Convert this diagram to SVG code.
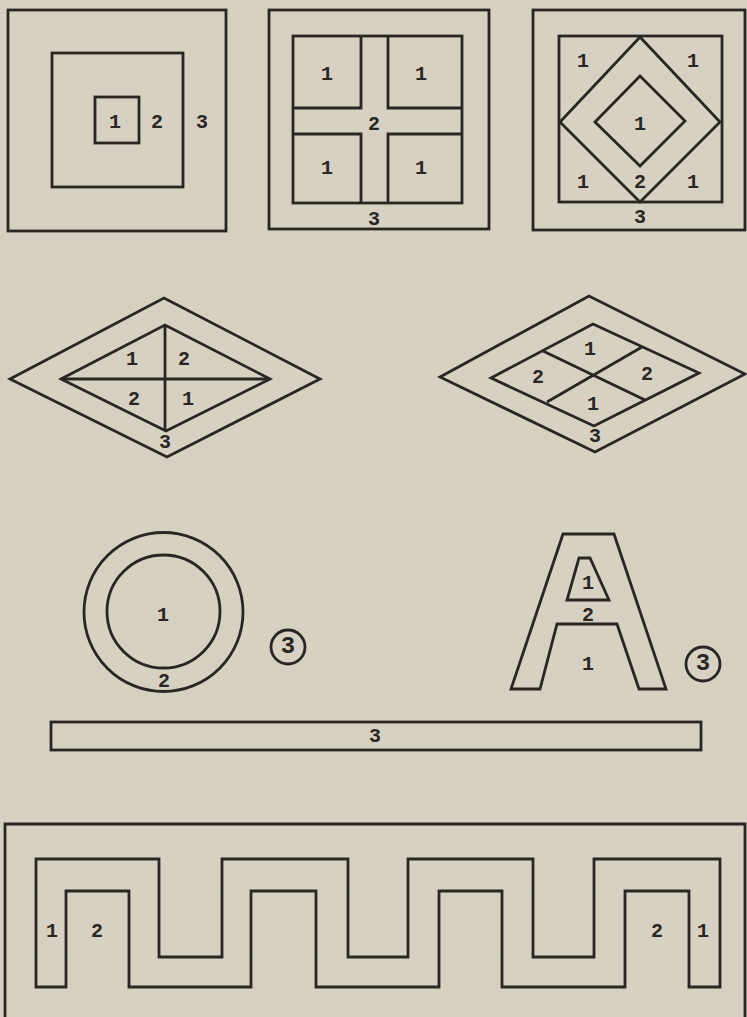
<svg xmlns="http://www.w3.org/2000/svg" width="747" height="1017" viewBox="0 0 747 1017">
<style>
.s{fill:none;stroke:#2a2622;stroke-width:2.8;stroke-linejoin:miter}
.t{font-family:"Liberation Mono","DejaVu Sans Mono",monospace;font-weight:bold;font-size:20px;fill:#2a2622;text-anchor:middle;dominant-baseline:central}
.c{font-size:24px}
</style>
<rect x="0" y="0" width="747" height="1017" fill="#d7d1c4"/>
<g id="square1">
<rect class="s" x="8" y="10" width="218" height="221"/>
<rect class="s" x="52" y="53" width="131" height="134"/>
<rect class="s" x="95" y="97" width="44" height="46"/>
<text class="t" x="115" y="122">1</text>
<text class="t" x="157" y="122">2</text>
<text class="t" x="202" y="122">3</text>
</g>
<g id="square2">
<rect class="s" x="269" y="10" width="220" height="219"/>
<rect class="s" x="293" y="36" width="169" height="167"/>
<path class="s" d="M361,36 V108 H293 M388,36 V108 H462 M293,134 H361 V203 M462,134 H388 V203"/>
<text class="t" x="327" y="74">1</text>
<text class="t" x="421" y="74">1</text>
<text class="t" x="374" y="124">2</text>
<text class="t" x="327" y="168">1</text>
<text class="t" x="421" y="168">1</text>
<text class="t" x="374" y="219">3</text>
</g>
<g id="square3">
<rect class="s" x="533" y="10" width="212" height="220"/>
<rect class="s" x="559" y="36" width="163" height="166"/>
<polygon class="s" points="640,37 720,122 640,202 560,122"/>
<polygon class="s" points="640,76 685,121 640,166 595,122"/>
<text class="t" x="583" y="61">1</text>
<text class="t" x="693" y="61">1</text>
<text class="t" x="640" y="124">1</text>
<text class="t" x="583" y="182">1</text>
<text class="t" x="640" y="182">2</text>
<text class="t" x="693" y="182">1</text>
<text class="t" x="640" y="217">3</text>
</g>
<g id="diamond1">
<polygon class="s" points="10,379 164,298 320,379 167,457"/>
<polygon class="s" points="61,379 165,325 270,379 166,431"/>
<path class="s" d="M165,325 V431 M61,379 H270"/>
<text class="t" x="132" y="359">1</text>
<text class="t" x="184" y="359">2</text>
<text class="t" x="134" y="399">2</text>
<text class="t" x="188" y="399">1</text>
<text class="t" x="165" y="442">3</text>
</g>
<g id="diamond2">
<polygon class="s" points="440,377 589,296 745,374 595,452"/>
<polygon class="s" points="491,378 593,324 699,373 594,426"/>
<path class="s" d="M543,351 L645,400 M642,347 L547,402"/>
<text class="t" x="590" y="349">1</text>
<text class="t" x="538" y="377">2</text>
<text class="t" x="647" y="374">2</text>
<text class="t" x="593" y="404">1</text>
<text class="t" x="595" y="436">3</text>
</g>
<g id="circle">
<circle class="s" cx="163.5" cy="612" r="79.5"/>
<circle class="s" cx="163.5" cy="611.5" r="56.5"/>
<text class="t" x="163" y="615">1</text>
<text class="t" x="164" y="681">2</text>
<circle class="s" cx="288" cy="647" r="17"/>
<text class="t c" x="288" y="646">3</text>
</g>
<g id="letterA">
<polygon class="s" points="563,534 614,534 666,689 639,689 617,624 557,624 540,689 511,689"/>
<polygon class="s" points="579,558 590,558 609,600 567,600"/>
<text class="t" x="588" y="583">1</text>
<text class="t" x="588" y="615">2</text>
<text class="t" x="588" y="664">1</text>
<circle class="s" cx="703" cy="664" r="17"/>
<text class="t c" x="703" y="663">3</text>
</g>
<g id="bar">
<rect class="s" x="51" y="722" width="650" height="28"/>
<text class="t" x="375" y="736">3</text>
</g>
<g id="meander">
<path class="s" d="M5,1017 V824 H745 V1017"/>
<path class="s" d="M36,987 V859 H159 V957 H222 V859 H348 V957 H408 V859 H533 V957 H594 V859 H720 V987 H689 V891 H625 V987 H502 V891 H439 V987 H316 V891 H251 V987 H129 V891 H66 V987 Z"/>
<text class="t" x="52" y="931">1</text>
<text class="t" x="97" y="931">2</text>
<text class="t" x="657" y="931">2</text>
<text class="t" x="703" y="931">1</text>
</g>
</svg>
